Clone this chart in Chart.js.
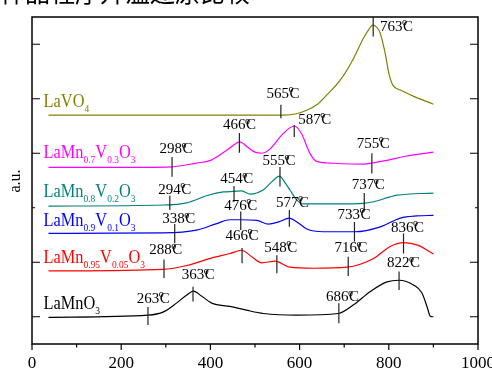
<!DOCTYPE html>
<html>
<head>
<meta charset="utf-8">
<script src="https://cdn.jsdelivr.net/npm/chart.js@4.4.0/dist/chart.umd.min.js"></script>
<style>
  html, body { margin: 0; padding: 0; background: #fff; }
  canvas { display: block; }
</style>
</head>
<body>
<canvas id="tprChart" width="492" height="368"></canvas>
<script>
//////////////////////////////
// Data (temperature in °C, signal in a.u.)
//////////////////////////////

const tempLaVO4 = [37, 200, 400, 540, 565, 590, 616, 640, 661, 691, 721, 743, 755, 764, 772, 780, 792, 800, 809, 826, 860, 900];
const sigLaVO4 = [4.20, 4.20, 4.20, 4.20, 4.20, 4.22, 4.29, 4.40, 4.57, 4.84, 5.24, 5.61, 5.77, 5.85, 5.82, 5.72, 5.33, 4.97, 4.75, 4.66, 4.53, 4.40];

const tempMn07 = [37, 200, 313, 369, 400, 425, 444, 466, 485, 500, 515, 534, 563, 588, 605, 616, 625, 638, 668, 743, 762, 818, 840, 900];
const sigMn07 = [3.24, 3.24, 3.25, 3.32, 3.37, 3.49, 3.60, 3.71, 3.60, 3.52, 3.50, 3.58, 3.86, 4.00, 3.85, 3.63, 3.47, 3.35, 3.32, 3.30, 3.32, 3.41, 3.45, 3.52];

const tempMn08 = [37, 295, 347, 395, 429, 452, 470, 489, 519, 537, 555, 568, 578, 594, 609, 691, 743, 766, 803, 818, 900];
const sigMn08 = [2.53, 2.55, 2.59, 2.73, 2.79, 2.80, 2.81, 2.75, 2.83, 2.97, 3.08, 2.95, 2.83, 2.64, 2.57, 2.57, 2.58, 2.61, 2.70, 2.73, 2.77];

const tempMn09 = [37, 294, 369, 414, 444, 466, 504, 530, 553, 577, 594, 616, 653, 724, 781, 826, 863, 900];
const sigMn09 = [2.03, 2.04, 2.09, 2.21, 2.28, 2.28, 2.27, 2.20, 2.24, 2.31, 2.24, 2.11, 2.06, 2.06, 2.15, 2.31, 2.35, 2.36];

const tempMn095 = [37, 294, 347, 407, 444, 470, 493, 515, 545, 578, 631, 706, 766, 803, 833, 866, 900];
const sigMn095 = [1.34, 1.37, 1.44, 1.59, 1.66, 1.72, 1.60, 1.49, 1.52, 1.41, 1.39, 1.41, 1.57, 1.79, 1.86, 1.81, 1.65];

const tempMnO3 = [37, 260, 295, 324, 347, 362, 380, 403, 444, 481, 519, 594, 687, 721, 758, 796, 823, 856, 874, 886, 893, 900];
const sigMnO3 = [0.49, 0.53, 0.59, 0.75, 0.90, 0.97, 0.88, 0.75, 0.69, 0.62, 0.56, 0.53, 0.56, 0.72, 0.96, 1.14, 1.17, 1.08, 0.94, 0.68, 0.51, 0.50];

// peak marks: [mark at °C, top, bottom, label, label at °C, label baseline, "c"entered / "l"eft]
const peaksLaVO4 = [[558, 4.39, 4.14, "565", 563, 4.52, "c"], [765, 6.0, 5.64, "763", 780, 5.75, "l"]];
const peaksMn07 = [[314, 3.43, 3.07, "298", 323, 3.50, "c"], [465, 3.87, 3.51, "466", 465, 3.94, "c"], [588, 4.02, 3.80, "587", 597, 4.04, "l"], [762, 3.50, 3.13, "755", 765, 3.60, "c"]];
const peaksMn08 = [[309, 2.72, 2.46, "294", 320, 2.76, "c"], [453, 2.90, 2.61, "454", 459, 2.95, "c"], [556, 3.25, 2.89, "555", 554, 3.28, "c"], [745, 2.77, 2.43, "737", 754, 2.84, "c"]];
const peaksMn09 = [[320, 2.20, 1.85, "338", 329, 2.22, "c"], [468, 2.43, 2.09, "476", 468, 2.46, "c"], [577, 2.46, 2.15, "577", 584, 2.52, "c"], [723, 2.24, 1.88, "733", 722, 2.30, "c"]];
const peaksMn095 = [[296, 1.55, 1.21, "288", 300, 1.65, "c"], [471, 1.76, 1.48, "466", 471, 1.91, "c"], [549, 1.63, 1.30, "548", 558, 1.69, "c"], [709, 1.60, 1.25, "716", 715, 1.68, "c"], [833, 2.03, 1.66, "836", 842, 2.06, "c"]];
const peaksMnO3 = [[260, 0.68, 0.35, "263", 272, 0.76, "c"], [361, 1.05, 0.78, "363", 373, 1.19, "c"], [688, 0.75, 0.38, "686", 696, 0.78, "c"], [823, 1.33, 0.99, "822", 833, 1.41, "c"]];

const xTicks = [0, 200, 400, 600, 800, 1000];
const xMinorTicks = [100, 300, 500, 700, 900];
const yTicks = [0.5, 1.5, 3.5, 4.5, 5.5];
const yShortTicks = [2.5];

const series = [
  { name: "LaVO4", parts: ["LaVO", "4"], color: "#808000", t: tempLaVO4, v: sigLaVO4, peaks: peaksLaVO4, labelAt: [26, 4.34] },
  { name: "LaMn0.7V0.3O3", parts: ["LaMn", "0.7", "V", "0.3", "O", "3"], color: "#ff00ff", t: tempMn07, v: sigMn07, peaks: peaksMn07, labelAt: [26, 3.41] },
  { name: "LaMn0.8V0.2O3", parts: ["LaMn", "0.8", "V", "0.2", "O", "3"], color: "#008080", t: tempMn08, v: sigMn08, peaks: peaksMn08, labelAt: [26, 2.70] },
  { name: "LaMn0.9V0.1O3", parts: ["LaMn", "0.9", "V", "0.1", "O", "3"], color: "#0000ff", t: tempMn09, v: sigMn09, peaks: peaksMn09, labelAt: [26, 2.17] },
  { name: "LaMn0.95V0.05O3", parts: ["LaMn", "0.95", "V", "0.05", "O", "3"], color: "#ff0000", t: tempMn095, v: sigMn095, peaks: peaksMn095, labelAt: [26, 1.49] },
  { name: "LaMnO3", parts: ["LaMnO", "3"], color: "#000000", t: tempMnO3, v: sigMnO3, peaks: peaksMnO3, labelAt: [26, 0.64] }
];

const SERIF = "'Liberation Serif', 'Times New Roman', serif";

//////////////////////////////
// Text helpers
//////////////////////////////

function drawTemp(ctx, text, x, y, align) {
  ctx.font = `15px ${SERIF}`;
  const wNum = ctx.measureText(text).width;
  const wC = ctx.measureText("C").width;
  const total = wNum + wC + 0.5;
  const x0 = align === "l" ? x : x - total / 2;
  ctx.fillText(text, x0, y);
  ctx.fillText("C", x0 + wNum + 0.5, y);
  ctx.font = `10px ${SERIF}`;
  ctx.fillText("o", x0 + wNum - 0.5, y - 5.5);
}

function drawFormula(ctx, parts, x, y, color) {
  ctx.save();
  ctx.translate(x, y);
  ctx.scale(0.86, 1);
  ctx.fillStyle = color;
  let cx = 0;
  parts.forEach((txt, i) => {
    const sub = i % 2 === 1;
    ctx.font = sub ? `11px ${SERIF}` : `19px ${SERIF}`;
    ctx.fillText(txt, cx, sub ? 5 : 0);
    cx += ctx.measureText(txt).width;
  });
  ctx.restore();
}

//////////////////////////////
// Frame, ticks and labels
//////////////////////////////

const frame = {
  id: "frame",
  afterDraw(chart) {
    const { ctx, chartArea: a } = chart;
    const x = chart.scales.x;
    const y = chart.scales.y;
    ctx.save();

    // cut-off caption above the figure
    ctx.fillStyle = "#000";
    ctx.font = "25px 'Noto Sans CJK SC'";
    ctx.textAlign = "left";
    ctx.textBaseline = "alphabetic";
    ctx.fillText("样品程序升温还原比较", 0, 2);

    ctx.strokeStyle = "#000";
    ctx.lineWidth = 1.5;
    ctx.strokeRect(a.left, a.top, a.right - a.left, a.bottom - a.top);

    ctx.lineWidth = 1.2;
    ctx.beginPath();
    xTicks.forEach(t => {
      const px = x.getPixelForValue(t);
      ctx.moveTo(px, a.bottom);
      ctx.lineTo(px, a.bottom + 6);
    });
    xMinorTicks.forEach(t => {
      const px = x.getPixelForValue(t);
      ctx.moveTo(px, a.bottom);
      ctx.lineTo(px, a.bottom + 3.5);
    });
    yTicks.forEach(v => {
      const py = y.getPixelForValue(v);
      ctx.moveTo(a.left, py);
      ctx.lineTo(a.left + 8, py);
      ctx.moveTo(a.right, py);
      ctx.lineTo(a.right - 8, py);
    });
    yShortTicks.forEach(v => {
      const py = y.getPixelForValue(v);
      ctx.moveTo(a.left, py);
      ctx.lineTo(a.left + 3, py);
      ctx.moveTo(a.right, py);
      ctx.lineTo(a.right - 3, py);
    });
    ctx.stroke();

    // x tick labels
    ctx.font = `17px ${SERIF}`;
    ctx.textAlign = "center";
    xTicks.forEach(t => ctx.fillText(String(t), x.getPixelForValue(t), 367.5));

    // y axis title
    ctx.save();
    ctx.translate(20, 181);
    ctx.rotate(-Math.PI / 2);
    ctx.font = `16px ${SERIF}`;
    ctx.fillText("a.u.", 0, 0);
    ctx.restore();

    // peak marks and temperatures
    ctx.textAlign = "left";
    ctx.strokeStyle = "#222";
    ctx.lineWidth = 1.2;
    series.forEach(s => {
      s.peaks.forEach(p => {
        const px = x.getPixelForValue(p[0]);
        ctx.beginPath();
        ctx.moveTo(px, y.getPixelForValue(p[1]));
        ctx.lineTo(px, y.getPixelForValue(p[2]));
        ctx.stroke();
        ctx.fillStyle = "#000";
        drawTemp(ctx, p[3], x.getPixelForValue(p[4]), y.getPixelForValue(p[5]), p[6]);
      });
      drawFormula(ctx, s.parts, x.getPixelForValue(s.labelAt[0]), y.getPixelForValue(s.labelAt[1]), s.color);
    });

    ctx.restore();
  }
};

//////////////////////////////
// Chart
//////////////////////////////

const chart = new Chart(document.getElementById("tprChart"), {
  type: "line",
  data: {
    datasets: series.map(s => ({
      label: s.name,
      data: s.t.map((t, i) => ({ x: t, y: s.v[i] })),
      borderColor: s.color,
      borderWidth: 1.2,
      pointRadius: 0,
      fill: false,
      cubicInterpolationMode: "monotone"
    }))
  },
  options: {
    responsive: false,
    animation: false,
    layout: { padding: { left: 32, right: 14, top: 17, bottom: 24 } },
    plugins: {
      legend: { display: false },
      tooltip: { enabled: false }
    },
    scales: {
      x: { type: "linear", min: 0, max: 1000, display: false },
      y: { type: "linear", min: 0, max: 6, display: false }
    }
  },
  plugins: [frame]
});
</script>
</body>
</html>
